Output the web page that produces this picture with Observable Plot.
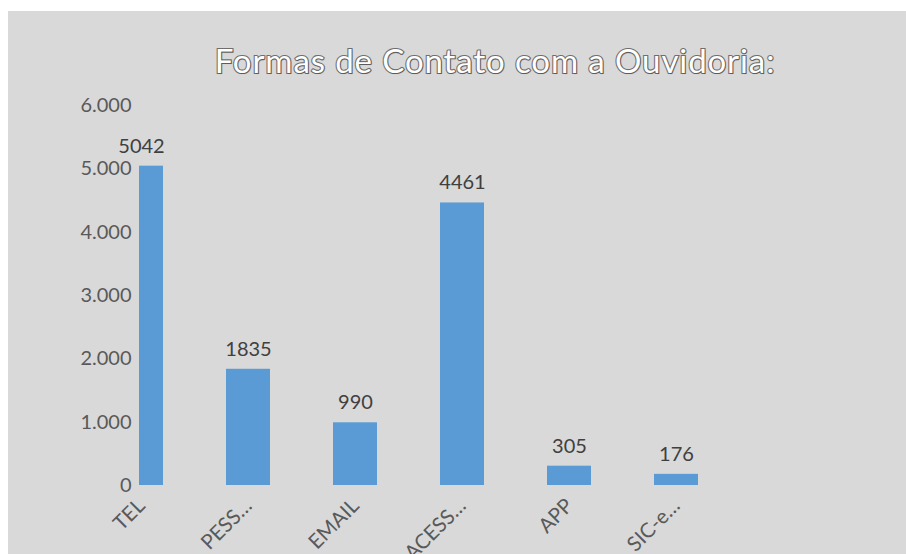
<!DOCTYPE html>
<html><head><meta charset="utf-8">
<script src="https://cdn.jsdelivr.net/npm/d3@7"></script>
<script src="https://cdn.jsdelivr.net/npm/@observablehq/plot@0.6"></script>
<style>
html,body{margin:0;padding:0;background:#fff;width:906px;height:554px;overflow:hidden;}
#wrap{position:relative;width:906px;height:554px;}
#panel{position:absolute;left:8px;top:11px;width:898px;height:543px;background:#d9d9d9;}
#title{position:absolute;left:0;width:990px;top:40px;text-align:center;font-family:Lato,sans-serif;font-size:33px;color:#fff;-webkit-text-stroke:2.2px #6e6e6e;paint-order:stroke fill;letter-spacing:0.9px;text-shadow:1px 1px 1px rgba(0,0,0,0.18);}
#chart{position:absolute;left:0;top:0;}
</style></head>
<body><div id="wrap"><div id="panel"></div><div id="title">Formas de Contato com a Ouvidoria:</div><div id="chart"></div></div>
<script>
const categories = ["TEL", "PESS…", "EMAIL", "ACESS…", "APP", "SIC-e…"];
const values = [5042, 1835, 990, 4461, 305, 176];
const yTicks = [0, 1000, 2000, 3000, 4000, 5000, 6000];
const yTickLabels = ["0", "1.000", "2.000", "3.000", "4.000", "5.000", "6.000"];

const data = categories.map((c, i) => ({cat: c, value: values[i]}));
const fmt = new Map(yTicks.map((t, i) => [t, yTickLabels[i]]));

const chart = Plot.plot({
  width: 906,
  height: 554,
  marginLeft: 139,
  marginRight: 150,
  marginTop: 105,
  marginBottom: 69,
  style: {background: "transparent", fontFamily: "Lato, sans-serif"},
  x: {domain: categories, range: [85.2, 730.8], paddingInner: 0.59, paddingOuter: 0.295, label: null},
  y: {domain: [0, 6000], range: [485, 105], label: null},
  marks: [
    Plot.barY(data, {x: "cat", y: "value", fill: "#5b9bd5", clip: true}),
    Plot.text(data, {x: "cat", y: "value", text: d => String(d.value), dy: -20, fontSize: 20, fill: "#404040", lineAnchor: "middle"}),
    Plot.axisY({ticks: yTicks, tickFormat: d => fmt.get(d), tickSize: 0, tickPadding: 8, fontSize: 20, color: "#595959", label: null}),
    Plot.axisX({tickRotate: -45, tickSize: 0, tickPadding: 17, fontSize: 20.5, color: "#595959", label: null})
  ]
});
document.getElementById("chart").appendChild(chart);
</script></body></html>
